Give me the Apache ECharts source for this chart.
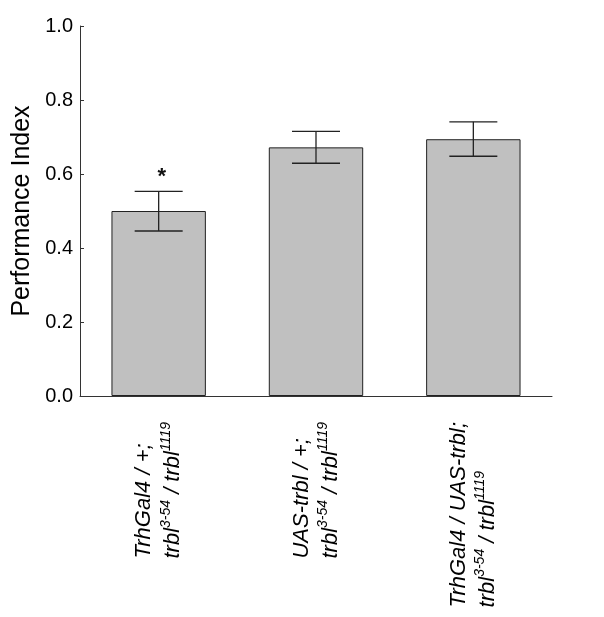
<!DOCTYPE html>
<html>
<head>
<meta charset="utf-8">
<script src="https://cdn.jsdelivr.net/npm/echarts@6/dist/echarts.min.js"></script>
<style>html,body{margin:0;padding:0;background:#fff}#c{width:604px;height:617px}</style>
</head>
<body>
<div id="c"></div>
<script>
var categories = ['g1', 'g2', 'g3'];
var line1 = ['TrhGal4 / +;', 'UAS-trbl / +;', 'TrhGal4 / UAS-trbl;'];
var means = [0.500, 0.672, 0.694];
var errLow = [0.446, 0.629, 0.648];
var errHigh = [0.553, 0.715, 0.741];
var significant = [true, false, false];
var yTicks = [0, 0.2, 0.4, 0.6, 0.8, 1.0];

var chart = echarts.init(document.getElementById('c'));
var font = '"Liberation Sans", Arial, sans-serif';
var errData = categories.map(function (c, i) { return [i, errLow[i], errHigh[i], significant[i] ? 1 : 0]; });

chart.setOption({
  animation: false,
  grid: { left: 80, right: 52, top: 26, bottom: 221 },
  xAxis: {
    type: 'category',
    data: categories,
    axisLine: { lineStyle: { color: '#333', width: 1 } },
    axisTick: { show: false },
    axisLabel: {
      rotate: 90,
      margin: 26,
      interval: 0,
      formatter: function (v, i) {
        return '{a|' + line1[i] + '}\n{a|trbl}{s|3-54}{a| / trbl}{s|1119}';
      },
      rich: {
        a: { fontFamily: font, fontStyle: 'italic', fontSize: 22, color: '#000', lineHeight: 29, align: 'left' },
        s: { fontFamily: font, fontStyle: 'italic', fontSize: 14, color: '#000', lineHeight: 29, verticalAlign: 'top', align: 'left' }
      }
    }
  },
  yAxis: {
    type: 'value',
    min: 0, max: 1, interval: 0.2,
    name: 'Performance Index',
    nameLocation: 'middle',
    nameGap: 39,
    nameTextStyle: { fontFamily: font, fontSize: 25, color: '#000' },
    axisLine: { show: true, lineStyle: { color: '#333', width: 1 } },
    axisTick: { show: true, inside: true, length: 4, lineStyle: { color: '#333' } },
    splitLine: { show: false },
    axisLabel: {
      fontFamily: font, fontSize: 20, color: '#000', margin: 7,
      formatter: function (v) { return v.toFixed(1); }
    }
  },
  series: [
    {
      type: 'bar',
      data: means,
      barWidth: '60%',
      itemStyle: { color: '#c0c0c0', borderColor: '#222', borderWidth: 1 }
    },
    {
      type: 'custom',
      data: errData,
      z: 10,
      renderItem: function (params, api) {
        var x = api.coord([api.value(0), 0])[0];
        var lo = api.coord([api.value(0), api.value(1)])[1];
        var hi = api.coord([api.value(0), api.value(2)])[1];
        var hw = 24;
        var st = { stroke: '#222', lineWidth: 1.3 };
        var children = [
          { type: 'line', shape: { x1: x, y1: lo, x2: x, y2: hi }, style: st },
          { type: 'line', shape: { x1: x - hw, y1: hi, x2: x + hw, y2: hi }, style: st },
          { type: 'line', shape: { x1: x - hw, y1: lo, x2: x + hw, y2: lo }, style: st }
        ];
        if (api.value(3)) {
          children.push({ type: 'text', style: { text: '*', x: x + 3, y: hi - 3, fontSize: 22, fontWeight: 'bold', fontFamily: font, fill: '#111', align: 'center', verticalAlign: 'bottom' } });
        }
        return { type: 'group', children: children };
      }
    }
  ]
});
</script>
</body>
</html>
